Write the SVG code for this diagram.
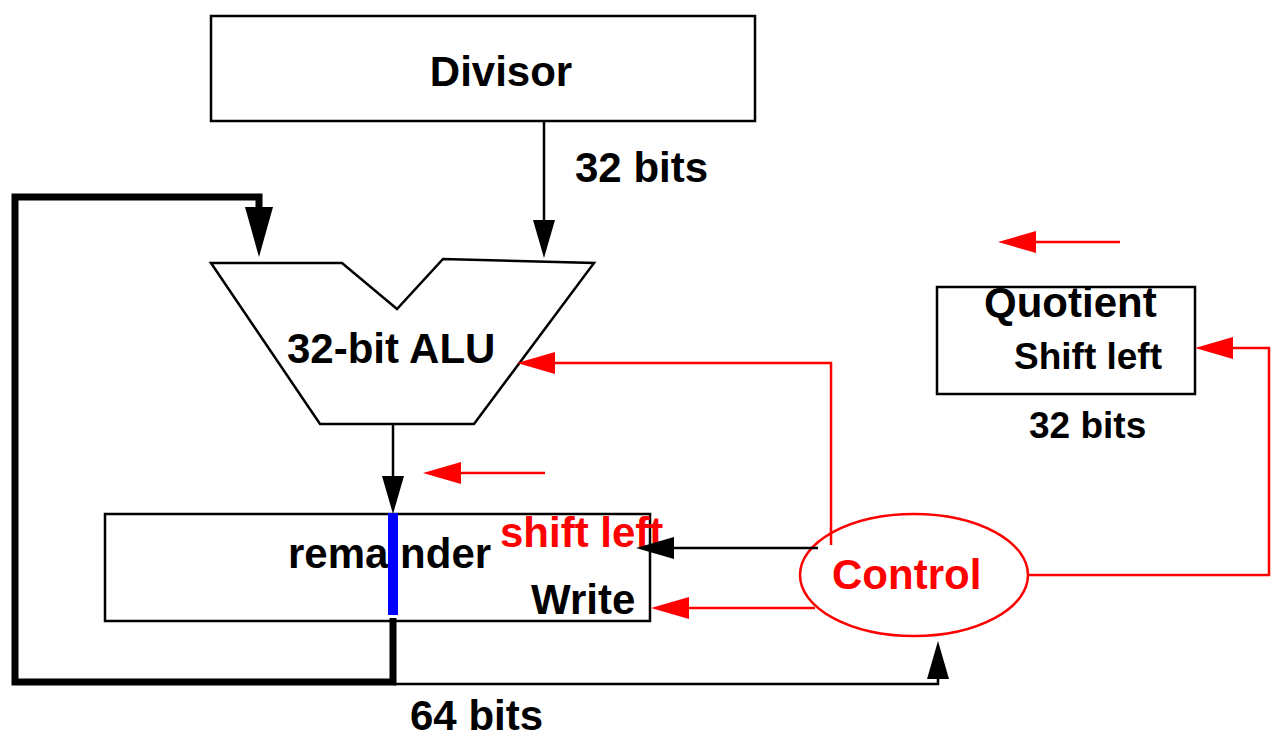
<svg xmlns="http://www.w3.org/2000/svg" width="1274" height="739" viewBox="0 0 1274 739">
<style>
  .box{fill:#fff;stroke:#000;stroke-width:2.5}
  .t{font-family:"Liberation Sans",Arial,sans-serif;font-weight:bold;font-size:42px;fill:#000}
  .ts{font-size:37px}
  .red{fill:#ff0000}
  .bl{fill:none;stroke:#000;stroke-width:2.5}
  .thick{fill:none;stroke:#000;stroke-width:7;stroke-linejoin:miter}
  .rl{fill:none;stroke:#ff0000;stroke-width:2.5}
</style>
<defs>
  <marker id="ab" markerUnits="userSpaceOnUse" markerWidth="40" markerHeight="24" refX="0" refY="11" orient="auto" overflow="visible">
    <path d="M0,0 L38,11 L0,22 Z" fill="#000"/>
  </marker>
  <marker id="ar" markerUnits="userSpaceOnUse" markerWidth="40" markerHeight="24" refX="0" refY="11" orient="auto" overflow="visible">
    <path d="M0,0 L38,11 L0,22 Z" fill="#ff0000"/>
  </marker>
  <marker id="abig" markerUnits="userSpaceOnUse" markerWidth="52" markerHeight="30" refX="0" refY="14" orient="auto" overflow="visible">
    <path d="M0,0 L50,14 L0,28 Z" fill="#000"/>
  </marker>
</defs>
<rect width="1274" height="739" fill="#fff"/>

<g id="divisor">
  <rect class="box" x="211" y="16" width="544" height="105"/>
  <text class="t" x="501" y="86" text-anchor="middle">Divisor</text>
</g>

<g id="alu">
  <polygon class="box" points="211,263 342,263 397,309 443,259 594,263 474,424 320,424"/>
  <text class="t" x="287" y="363">32-bit ALU</text>
</g>

<g id="remainder">
  <rect class="box" x="105" y="514" width="545" height="107"/>
  <text class="t" x="288" y="568">remainder</text>
  <text class="t red" x="500" y="547">shift left</text>
  <text class="t" x="531" y="614">Write</text>
  <rect x="388" y="513" width="10" height="102" fill="#0000ff"/>
</g>

<g id="quotient">
  <rect class="box" x="937" y="287" width="258" height="107"/>
  <text class="t" x="984" y="317">Quotient</text>
  <text class="t ts" x="1014" y="369">Shift left</text>
</g>

<g id="control">
  <ellipse cx="914" cy="575" rx="114" ry="61" fill="#fff" stroke="#ff0000" stroke-width="2.5"/>
  <text class="t red" x="832" y="589">Control</text>
</g>

<g id="connectors">
  <path class="bl" d="M544,121 V220" marker-end="url(#ab)"/>
  <path class="thick" d="M393,618 V682 H15 V197 H259 V207" marker-end="url(#abig)"/>
  <path class="bl" d="M393,424 V476" marker-end="url(#ab)"/>
  <path class="bl" d="M393,684 H938 V679" marker-end="url(#ab)"/>
  <path class="bl" d="M818,548 H674" marker-end="url(#ab)"/>
  <path class="rl" d="M815,608 H689" marker-end="url(#ar)"/>
  <path class="rl" d="M831,545 V363 H555" marker-end="url(#ar)"/>
  <path class="rl" d="M1027,575 H1269 V348 H1233" marker-end="url(#ar)"/>
  <path class="rl" d="M545,473 H461" marker-end="url(#ar)"/>
  <path class="rl" d="M1120,242 H1036" marker-end="url(#ar)"/>
</g>

<g id="labels">
  <text class="t" x="575" y="182">32 bits</text>
  <text class="t ts" x="1029" y="438">32 bits</text>
  <text class="t" x="410" y="730">64 bits</text>
</g>
</svg>
